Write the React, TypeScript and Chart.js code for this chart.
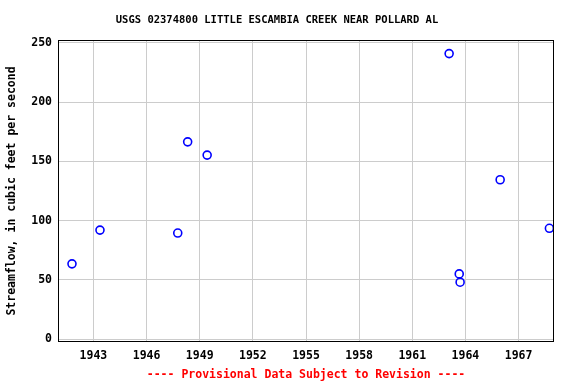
import React, { useEffect, useRef } from "react";
import { Chart, registerables } from "chart.js";

Chart.register(...registerables);

const TITLE = "USGS 02374800 LITTLE ESCAMBIA CREEK NEAR POLLARD AL";
const Y_TITLE = "Streamflow, in cubic feet per second";
const X_TITLE = "---- Provisional Data Subject to Revision ----";

const years = [1941.79, 1943.37, 1947.76, 1948.32, 1949.42, 1963.08, 1963.65, 1963.7, 1965.96, 1968.74];
const flows = [63.5, 92, 89.5, 166.5, 155.3, 241, 55, 48, 134.5, 93.5];

const xTicks = [1943, 1946, 1949, 1952, 1955, 1958, 1961, 1964, 1967];
const yTicks = [0, 50, 100, 150, 200, 250];

const FONT = "'DejaVu Sans Mono', 'Liberation Mono', monospace";

const framePlugin = {
  id: "frame",
  afterDraw(chart: any) {
    const { ctx, chartArea } = chart;
    ctx.save();
    ctx.strokeStyle = "#000";
    ctx.lineWidth = 1;
    ctx.strokeRect(
      Math.round(chartArea.left) + 0.5,
      Math.round(chartArea.top) + 0.5,
      Math.round(chartArea.right - chartArea.left) - 1,
      Math.round(chartArea.bottom - chartArea.top) - 1
    );
    ctx.restore();
  },
};

export default function App() {
  const ref = useRef<HTMLCanvasElement>(null);
  useEffect(() => {
    if (!ref.current) return;
    const chart = new Chart(ref.current, {
      type: "scatter",
      data: {
        datasets: [
          {
            data: years.map((x, i) => ({ x, y: flows[i] })),
            pointStyle: "circle",
            pointRadius: 4,
            pointHoverRadius: 4,
            borderColor: "#0000ff",
            backgroundColor: "rgba(0,0,0,0)",
            pointBorderWidth: 1.6,
          },
        ],
      },
      options: {
        animation: false,
        responsive: false,
        maintainAspectRatio: false,
        layout: { padding: { left: 0, right: 22, top: 0, bottom: 0 } },
        plugins: {
          legend: { display: false },
          tooltip: { enabled: false },
          title: {
            display: true,
            text: TITLE,
            color: "#000",
            font: { family: FONT, size: 10.5, weight: "bold", lineHeight: 1.2 },
            padding: { top: 14, bottom: 13.4 },
          },
        },
        scales: {
          x: {
            type: "linear",
            min: 1941.0,
            max: 1969.0,
            afterBuildTicks: (s: any) => {
              s.ticks = xTicks.map((v) => ({ value: v }));
            },
            afterFit: (s: any) => {
              s.height = 42;
            },
            grid: { color: "#cccccc", drawTicks: false, lineWidth: 1 },
            border: { display: false },
            ticks: {
              color: "#000",
              padding: 7,
              font: { family: FONT, size: 11.5, weight: "bold" },
              callback: (v: any) => String(v),
              maxRotation: 0,
              autoSkip: false,
            },
            title: {
              display: true,
              text: X_TITLE,
              color: "#ff0000",
              font: { family: FONT, size: 11.5, weight: "bold", lineHeight: 1.2 },
              padding: { top: 0, bottom: 2 },
            },
          },
          y: {
            type: "linear",
            min: -2.5,
            max: 252.5,
            afterBuildTicks: (s: any) => {
              s.ticks = yTicks.map((v) => ({ value: v }));
            },
            afterFit: (s: any) => {
              s.width = 58;
            },
            grid: { color: "#cccccc", drawTicks: false, lineWidth: 1 },
            border: { display: false },
            ticks: {
              color: "#000",
              padding: 6,
              font: { family: FONT, size: 11.5, weight: "bold" },
              callback: (v: any) => String(v),
            },
            title: {
              display: true,
              text: Y_TITLE,
              color: "#000",
              font: { family: FONT, size: 11.5, weight: "bold", lineHeight: 1.2 },
              padding: { top: 5, bottom: 0 },
            },
          },
        },
      },
      plugins: [framePlugin],
    });
    return () => chart.destroy();
  }, []);
  return (
    <div style={{ position: "fixed", left: 0, top: 0, width: 576, height: 384, background: "#fff" }}>
      <canvas ref={ref} width={576} height={384} style={{ width: 576, height: 384 }} />
    </div>
  );
}
